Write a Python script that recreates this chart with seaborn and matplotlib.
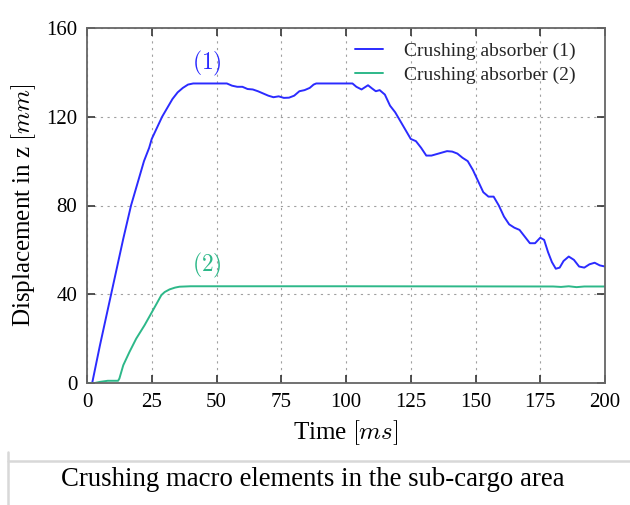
import matplotlib
matplotlib.use("Agg")
import matplotlib.pyplot as plt
import seaborn as sns
import pandas as pd
from matplotlib.lines import Line2D

# ---- data ----
t_abs1 = [0, 2, 5, 8, 11, 14, 17, 20, 22, 24, 25, 27, 29, 31, 33, 35, 37, 39, 41, 45, 50, 54, 56, 58,
          60, 62, 64, 66, 68, 70, 72, 74, 76, 78, 80, 82, 84, 86, 87.5, 88.5, 95, 102.5, 104, 106,
          108.5, 110, 111.5, 113, 115, 117, 119, 121, 123, 125, 127, 129, 131, 133, 136, 139, 141,
          143, 145, 147, 149, 151, 153, 155, 157, 159, 161, 163, 165, 167, 169, 171, 173, 175, 176.5,
          178, 179.5, 181, 182.5, 184, 186, 188, 190, 192, 194, 196, 198, 200]
v_abs1 = [0, 0, 17, 33, 49, 65, 80, 92, 100, 106, 110, 115, 120, 124, 128, 131, 133, 134.5, 135,
          135, 135, 135, 134, 133.5, 133.5, 132.5, 132.3, 131.5, 130.5, 129.5, 128.8, 129.2, 128.5,
          128.6, 129.5, 131.5, 132, 133, 134.5, 135, 135, 135, 133.5, 132.3, 134.2, 132.8, 131.5,
          132, 130, 125, 122, 118, 114, 110, 109, 106, 102.5, 102.5, 103.5, 104.5, 104.3, 103.4,
          101.5, 100, 96, 91, 86, 84, 84, 80, 75, 71.5, 70, 69, 66, 63, 63, 65.5, 64.5, 59, 54.5,
          51.5, 52, 55, 57, 55.5, 52.5, 52, 53.5, 54.2, 53, 52.5]
t_abs2 = [0, 3, 5, 8, 12, 12.5, 14, 16.4, 19, 22.2, 24.8, 27, 28.7, 30, 31.9, 34, 35.7, 40, 100, 180,
          183, 186, 189, 192, 200]
v_abs2 = [0, 0, 0.5, 1, 1, 2, 8, 14, 20, 26, 31.4, 36, 39.6, 41, 42.2, 43, 43.4, 43.6, 43.6, 43.5,
          43.3, 43.6, 43.2, 43.5, 43.5]
series_names = ["Crushing absorber (1)", "Crushing absorber (2)"]
x_ticks = [0, 25, 50, 75, 100, 125, 150, 175, 200]
y_ticks = [0, 40, 80, 120, 160]

BLUE = "#2b2bff"
GREEN = "#2db889"

sns.set_theme(style="white")
plt.rcParams["font.family"] = ["Liberation Serif", "DejaVu Serif"]
plt.rcParams["mathtext.fontset"] = "cm"

df = pd.concat([
    pd.DataFrame({"t": t_abs1, "v": v_abs1, "s": series_names[0]}),
    pd.DataFrame({"t": t_abs2, "v": v_abs2, "s": series_names[1]}),
])

fig = plt.figure(figsize=(6.3, 5.05), dpi=100)
ax = fig.add_axes([87 / 630, 1 - 383 / 505, 518 / 630, 355 / 505])

sns.lineplot(data=df, x="t", y="v", hue="s", palette=[BLUE, GREEN], ax=ax,
             linewidth=1.4, legend=False, sort=False, estimator=None)

ax.set_xlim(0, 200)
ax.set_ylim(0, 160)
ax.set_xticks(x_ticks)
ax.set_yticks(y_ticks)
ax.set_xticklabels([str(v) for v in x_ticks], fontsize=15)
ax.set_yticklabels([str(v) for v in y_ticks], fontsize=15)
ax.grid(True, color="#a0a0a0", linestyle=(0, (2, 4)), linewidth=0.8)
ax.tick_params(direction="in", length=6, width=1.2, color="#333333", top=True, right=True,
               bottom=True, left=True, labelcolor="black")
ax.tick_params(axis="x", pad=7)
ax.tick_params(axis="y", pad=7)
for sp in ax.spines.values():
    sp.set_color("#666666")
    sp.set_linewidth(1.3)

ax.set_xlabel(r"Time $[ms]$", fontsize=18, color="black", labelpad=5)
ax.set_ylabel(r"Displacement in z $[mm]$", fontsize=18, color="black", labelpad=6)

ax.text(46.3, 144, r"$(1)$", color=BLUE, fontsize=17, ha="center", va="center")
ax.text(46.3, 53, r"$(2)$", color=GREEN, fontsize=17, ha="center", va="center")

handles = [Line2D([], [], color=BLUE, lw=1.4), Line2D([], [], color=GREEN, lw=1.4)]
ax.legend(handles, series_names, loc="upper right", frameon=False, fontsize=14,
          handlelength=1.45, handletextpad=1.1, labelspacing=0.3,
          bbox_to_anchor=(0.97, 0.997), borderpad=0.2)

# caption area
fig.add_artist(Line2D([8 / 630, 1.0], [1 - 461 / 505] * 2, color="#d8d8d8", lw=1.8))
fig.add_artist(Line2D([8 / 630, 8 / 630], [1 - 452 / 505, 0], color="#d8d8d8", lw=1.8))
fig.text(313 / 630, 1 - 479 / 505, "Crushing macro elements in the sub-cargo area",
         fontsize=19.3, ha="center", va="center", color="black")

fig.savefig("out.png", dpi=100, facecolor="white")
